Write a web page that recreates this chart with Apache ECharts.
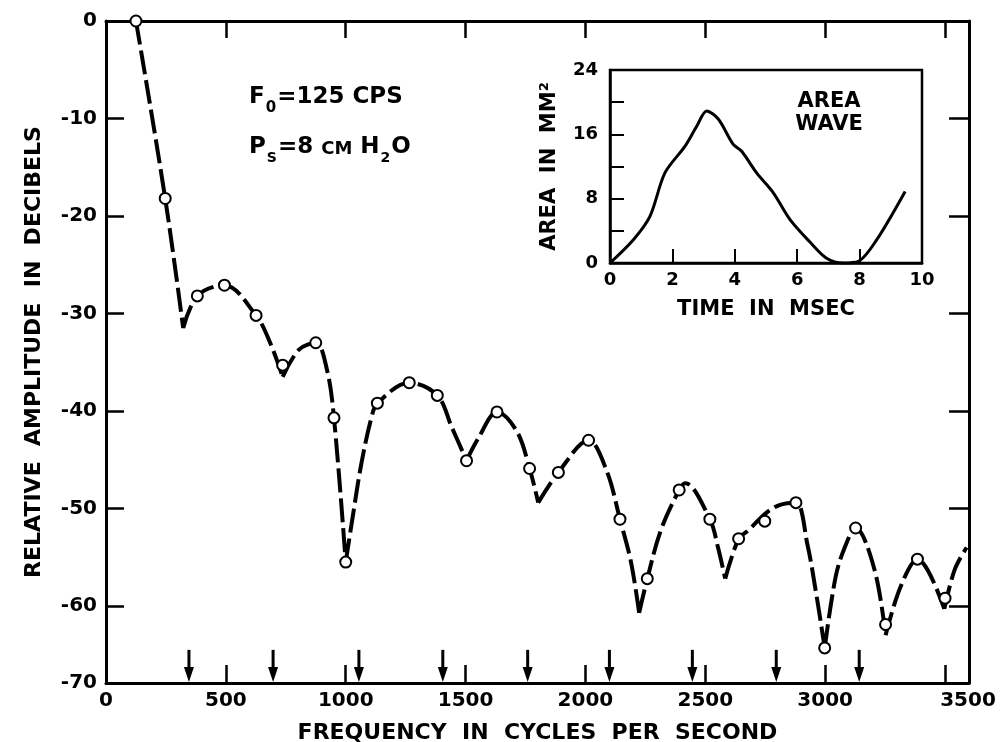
<!DOCTYPE html>
<html>
<head>
<meta charset="UTF-8">
<title>Glottal spectrum</title>
<style>
  html, body { margin: 0; padding: 0; background: #fff; }
  #main { width: 1003px; height: 742px; }
</style>
</head>
<body>
<div id="main"></div>
<script src="https://cdn.jsdelivr.net/npm/echarts@6/dist/echarts.min.js"></script>
<script>
// harmonic points (open circles), Hz / dB
var harmFreq = [125, 247, 381, 494, 626, 737, 875, 951, 1000, 1132, 1265, 1382, 1504, 1631, 1767, 1887, 2013,
  2144, 2258, 2391, 2519, 2639, 2748, 2878, 2998, 3127, 3252, 3385, 3500];
var harmDb = [0, -18.2, -28.2, -27.1, -30.2, -35.3, -33.0, -40.7, -55.5, -39.2, -37.1, -38.4, -45.1, -40.1, -45.9, -46.3, -43.0,
  -51.1, -57.2, -48.1, -51.1, -53.1, -51.3, -49.4, -64.3, -52.0, -61.9, -55.2, -59.2];

// drawn envelope curve
var curveFreq = [125, 247, 322, 381, 494, 626, 683, 737, 805, 875, 922, 951, 1000, 1032, 1066, 1108, 1132, 1265, 1382,
  1443, 1504, 1553, 1631, 1714, 1767, 1803, 1887, 2013, 2088, 2144, 2190, 2224, 2258, 2315, 2391, 2416, 2519, 2552,
  2583, 2639, 2677, 2757, 2815, 2878, 2926, 2963, 2998, 3043, 3080, 3127, 3205, 3252, 3315, 3385, 3497, 3540, 3590];
var curveDb = [0, -18.2, -31.5, -28.2, -27.1, -30.2, -32.9, -36.5, -33.7, -33.0, -35.8, -40.7, -55.5, -50.4, -45.3, -40.6, -39.2, -37.1, -38.4,
  -41.7, -45.1, -42.8, -40.1, -42.1, -45.9, -49.4, -46.3, -43.0, -46.1, -51.1, -55.5, -60.7, -57.2, -52.2, -48.1, -47.4, -51.1, -53.9,
  -57.2, -53.1, -52.3, -50.4, -49.6, -49.4, -53.7, -58.8, -64.3, -57.1, -54.1, -52.0, -56.2, -63.0, -58.0, -55.2, -60.3, -56.3, -54.0];
// sharp minima of the curve
var cuspFreq = [322, 737, 1000, 1504, 1803, 2224, 2583, 2998, 3252, 3497];

// arrows along the frequency axis
var arrowFreq = [346, 697, 1055, 1405, 1759, 2100, 2446, 2796, 3142];
var arrowTopDb = -64.5;

// inset: area wave
var waveTime = [0, 0.75, 1.28, 1.76, 2.40, 2.78, 3.1, 3.47, 3.95, 4.22, 4.70, 5.24, 5.77, 6.41, 6.94, 7.48, 7.96, 8.55, 9.46];
var waveArea = [0, 2.9, 5.8, 11.2, 14.5, 17.0, 18.9, 17.9, 14.75, 13.9, 11.2, 8.7, 5.4, 2.6, 0.6, 0, 0.2, 2.9, 8.9];

var FONT = 'DejaVu Sans';
var DB_MIN = -67.9; // the bottom axis of the original sits a bit above a true -70

var myChart = echarts.init(document.getElementById('main'));

// curve broken at each cusp so the smoothing keeps the notches sharp
var curveData = [];
curveFreq.forEach(function(f, i) {
  curveData.push([f, curveDb[i]]);
  if (cuspFreq.indexOf(f) >= 0) {
    curveData.push([f, '-']);
    curveData.push([f, curveDb[i]]);
  }
});

function txt(size) {
  return { color: '#000', fontSize: size, fontWeight: 'bold', fontFamily: FONT };
}

var option = {
  backgroundColor: '#fff',
  animation: false,
  grid: [
    { left: 106, top: 21, width: 863, height: 662, outerBoundsMode: 'none' },
    { left: 610, top: 70, width: 312, height: 193, outerBoundsMode: 'none',
      show: true, borderColor: '#000', borderWidth: 2.5 }
  ],
  xAxis: [{
    gridIndex: 0, type: 'value', min: 0, max: 3600, interval: 500,
    axisLine: { onZero: false, lineStyle: { color: '#000', width: 3 } },
    axisTick: { inside: true, length: 18, lineStyle: { color: '#000', width: 2.5 } },
    splitLine: { show: false },
    axisLabel: Object.assign(txt(20), {
      margin: 8,
      formatter: function(v) {
        if (v === 3500) return '{r|3500}';
        if (v > 3500) return '';
        return String(v);
      },
      rich: { r: Object.assign(txt(20), { padding: [0, 0, 0, 46] }) }
    }),
    name: 'FREQUENCY  IN  CYCLES  PER  SECOND', nameLocation: 'middle', nameGap: 39,
    nameTextStyle: txt(22)
  }, {
    gridIndex: 0, type: 'value', position: 'top', min: 0, max: 3600, interval: 500,
    axisLine: { onZero: false, lineStyle: { color: '#000', width: 3 } },
    axisTick: { inside: true, length: 17, lineStyle: { color: '#000', width: 2.5 } },
    axisLabel: { show: false }, splitLine: { show: false }
  }, {
    gridIndex: 1, type: 'value', min: 0, max: 10, interval: 2,
    axisLine: { onZero: false, lineStyle: { color: '#000', width: 2.5 } },
    axisTick: { inside: true, length: 14, lineStyle: { color: '#000', width: 2 } },
    splitLine: { show: false },
    axisLabel: Object.assign(txt(18), { margin: 8 }),
    name: 'TIME  IN  MSEC', nameLocation: 'middle', nameGap: 36,
    nameTextStyle: txt(21)
  }],
  yAxis: [{
    gridIndex: 0, type: 'value', min: DB_MIN, max: 0, splitNumber: 7,
    axisLine: { show: true, onZero: false, lineStyle: { color: '#000', width: 3 } },
    axisTick: { inside: true, length: 18, lineStyle: { color: '#000', width: 2.5 } },
    splitLine: { show: false },
    axisLabel: Object.assign(txt(20), {
      margin: 9,
      formatter: function(v) { return v <= DB_MIN + 0.01 ? '-70' : String(v); }
    }),
    name: 'RELATIVE  AMPLITUDE  IN  DECIBELS', nameLocation: 'middle', nameGap: 61,
    nameTextStyle: txt(22)
  }, {
    gridIndex: 0, type: 'value', position: 'right', min: DB_MIN, max: 0, splitNumber: 7,
    axisLine: { show: true, onZero: false, lineStyle: { color: '#000', width: 3 } },
    axisTick: { inside: true, length: 20, lineStyle: { color: '#000', width: 2.5 } },
    axisLabel: { show: false }, splitLine: { show: false }
  }, {
    gridIndex: 1, type: 'value', min: 0, max: 24, interval: 8,
    axisLine: { show: true, onZero: false, lineStyle: { color: '#000', width: 2.5 } },
    axisTick: { inside: true, length: 14, lineStyle: { color: '#000', width: 2 } },
    minorTick: { show: true, splitNumber: 2, length: 14, lineStyle: { color: '#000', width: 2 } },
    splitLine: { show: false },
    axisLabel: Object.assign(txt(18), { margin: 12 }),
    name: 'AREA  IN  MM²', nameLocation: 'middle', nameGap: 50,
    nameTextStyle: txt(21)
  }],
  graphic: [{
    type: 'text', left: 249, top: 86,
    style: {
      text: '{m|F}{s|0}{m|=125 CPS}',
      rich: {
        m: { fontSize: 23, fontWeight: 'bold', fontFamily: FONT, fill: '#000' },
        s: { fontSize: 15, fontWeight: 'bold', fontFamily: FONT, fill: '#000', padding: [22, 1, 0, 1] }
      }
    }
  }, {
    type: 'text', left: 249, top: 136,
    style: {
      text: '{m|P}{s|S}{m|=8 }{c|CM}{m| H}{s|2}{m|O}',
      rich: {
        m: { fontSize: 23, fontWeight: 'bold', fontFamily: FONT, fill: '#000' },
        c: { fontSize: 18, fontWeight: 'bold', fontFamily: FONT, fill: '#000', padding: [4, 0, 0, 0] },
        s: { fontSize: 14, fontWeight: 'bold', fontFamily: FONT, fill: '#000', padding: [22, 1, 0, 1] }
      }
    }
  }, {
    type: 'text', x: 829, y: 90,
    style: {
      text: 'AREA\nWAVE', align: 'center', lineHeight: 23,
      fontSize: 21, fontWeight: 'bold', fontFamily: FONT, fill: '#000'
    }
  }],
  series: [{
    name: 'curve', type: 'line', xAxisIndex: 0, yAxisIndex: 0,
    data: curveData, smooth: 0.35, symbol: 'none', connectNulls: false,
    lineStyle: { color: '#000', width: 4, type: [24, 6], cap: 'butt' },
    z: 2
  }, {
    name: 'harmonics', type: 'scatter', xAxisIndex: 0, yAxisIndex: 0,
    data: harmFreq.map(function(f, i) { return [f, harmDb[i]]; }),
    symbol: 'circle', symbolSize: 11,
    itemStyle: { color: '#fff', borderColor: '#000', borderWidth: 2, opacity: 1 },
    z: 3
  }, {
    name: 'arrows', type: 'custom', xAxisIndex: 0, yAxisIndex: 0,
    data: arrowFreq.map(function(f) { return [f, arrowTopDb]; }),
    renderItem: function(params, api) {
      var top = api.coord([api.value(0), api.value(1)]);
      var bot = api.coord([api.value(0), DB_MIN]);
      return {
        type: 'group',
        children: [{
          type: 'line',
          shape: { x1: top[0], y1: top[1], x2: bot[0], y2: bot[1] - 10 },
          style: { stroke: '#000', lineWidth: 3 }
        }, {
          type: 'polygon',
          shape: { points: [[bot[0] - 5, bot[1] - 16], [bot[0] + 5, bot[1] - 16], [bot[0], bot[1] - 1]] },
          style: { fill: '#000' }
        }]
      };
    },
    z: 2
  }, {
    name: 'area wave', type: 'line', xAxisIndex: 2, yAxisIndex: 2,
    data: waveTime.map(function(t, i) { return [t, waveArea[i]]; }),
    smooth: 0.3, symbol: 'none',
    lineStyle: { color: '#000', width: 3 }
  }]
};

myChart.setOption(option);
</script>
</body>
</html>
